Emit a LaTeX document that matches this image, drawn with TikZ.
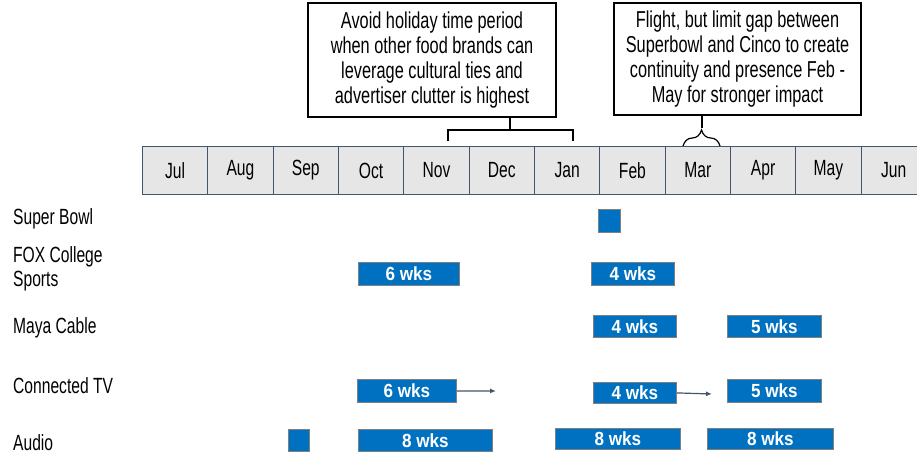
\documentclass[tikz,border=0pt]{standalone}
\usepackage{fontspec}
\setmainfont{Liberation Sans}[FakeStretch=0.71, BoldFeatures={FakeStretch=0.9}]
\usetikzlibrary{decorations.pathreplacing,arrows.meta}
\definecolor{barblue}{HTML}{0070C0}
\definecolor{monthgray}{HTML}{E7E6E6}
\definecolor{slate}{HTML}{44546A}
\tikzset{
  month/.style={draw=slate, fill=monthgray, line width=0.9pt, anchor=north west,
    minimum width=65.33, minimum height=48, inner sep=0, font=\fontsize{22}{24}\selectfont},
  bar/.style={draw=black!50, fill=barblue, line width=0.8pt, anchor=north west, inner sep=0,
    text=white, font=\fontsize{19}{20}\selectfont\bfseries},
  note/.style={draw=black, line width=1.2pt, align=center, inner sep=4pt,
    font=\fontsize{23}{25}\selectfont},
  rowlabel/.style={anchor=west, align=left, inner sep=0, font=\fontsize{22}{24}\selectfont},
  push/.style={draw=slate, line width=1.2pt, -{Latex[length=6pt,width=5pt]}}
}
\begin{document}
\begin{tikzpicture}[x=1pt,y=-1pt]
		%%%%% START %%%%%
		\useasboundingbox (0,0) rectangle (917,456);

		% month strip
		\foreach \m [count=\i from 0] in {Jul,Aug,Sep,Oct,Nov,Dec,Jan,Feb,Mar,Apr,May,Jun}
			\node[month] (m\i) at ({142+65.33*\i},146) {\m};

		% call-outs
		\node[note, minimum width=248, minimum height=114] (holiday) at (432,60)
			{Avoid holiday time period\\when other food brands can\\leverage cultural ties and\\advertiser clutter is highest};
		\node[note, minimum width=247, minimum height=112] (flight) at (737.5,59)
			{Flight, but limit gap between\\Superbowl and Cinco to create\\continuity and presence Feb -\\May for stronger impact};

		\coordinate (holtop) at (510,130);
		\draw[line width=1.2pt] (holtop |- holiday.south) -- (holtop);
		\draw[line width=1.2pt] (448,141) -- (448,130) -- (573,130) -- (573,141);

		\coordinate (fltip) at (702,128);
		\draw[line width=1.2pt] (fltip |- flight.south) -- (fltip);
		\draw[line width=1.2pt, decorate, decoration={brace, amplitude=16pt}] (683,146) -- (720,146);

		% row labels
		\node[rowlabel] (sb) at (13,219) {Super Bowl};
		\node[rowlabel] (fox) at (13,269) {FOX College\\Sports};
		\node[rowlabel] (maya) at (13,328) {Maya Cable};
		\node[rowlabel] (ctv) at (13,386) {Connected TV};
		\node[rowlabel] (audio) at (13,443) {Audio};

		% flights
		\node[bar, minimum width=22, minimum height=23] (sbsq) at (598,209) {};

		\node[bar, minimum width=101, minimum height=23] (foxa) at (358,262) {6 wks};
		\node[bar, minimum width=83, minimum height=23] (foxb) at (591,262) {4 wks};

		\node[bar, minimum width=83, minimum height=22] (mayaa) at (593,315) {4 wks};
		\node[bar, minimum width=94, minimum height=22] (mayab) at (727,315) {5 wks};

		\node[bar, minimum width=99, minimum height=23] (ctva) at (357,379) {6 wks};
		\node[bar, minimum width=83, minimum height=21] (ctvb) at (593,382) {4 wks};
		\node[bar, minimum width=94, minimum height=23] (ctvc) at (727,379) {5 wks};
		\coordinate (ctvaend) at (496,391);
		\coordinate (ctvbend) at (712,394);
		\draw[push] (ctva.east) -- (ctvaend);
		\draw[push] (ctvb.east) -- (ctvbend);

		\node[bar, minimum width=21, minimum height=22] (audsq) at (288,429) {};
		\node[bar, minimum width=134, minimum height=22] (auda) at (358,429) {8 wks};
		\node[bar, minimum width=125, minimum height=21] (audb) at (555,428) {8 wks};
		\node[bar, minimum width=126, minimum height=21] (audc) at (707,428) {8 wks};
		%%%%% END %%%%%
\end{tikzpicture}
\end{document}
